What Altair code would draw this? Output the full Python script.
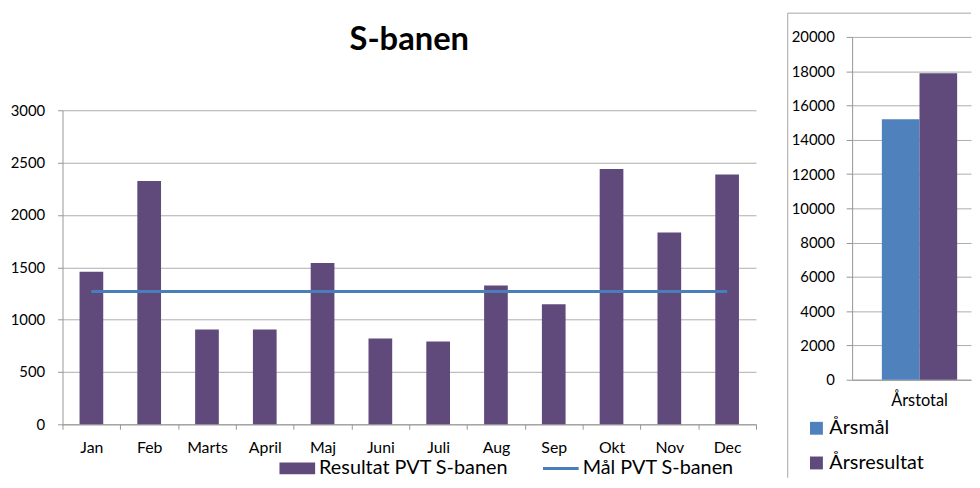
import altair as alt
import pandas as pd

# ---------------- data ----------------
months = ["Jan", "Feb", "Marts", "April", "Maj", "Juni", "Juli", "Aug", "Sep", "Okt", "Nov", "Dec"]
result_values = [1457, 2324, 905, 905, 1542, 820, 792, 1325, 1148, 2438, 1832, 2387]
target_values = [1268, 1268, 1268, 1268, 1268, 1268, 1268, 1268, 1268, 1268, 1268, 1268]
series_names = ["Resultat PVT S-banen", "Mål PVT S-banen"]
y_ticks_left = [0, 500, 1000, 1500, 2000, 2500, 3000]
chart_title = ["S-banen"]

annual_category = ["Årstotal", "Årstotal"]
annual_series = ["Årsmål", "Årsresultat"]
annual_values = [15200, 17880]
y_ticks_right = [0, 2000, 4000, 6000, 8000, 10000, 12000, 14000, 16000, 18000, 20000]

# ---------------- style ----------------
FONT = "Lato"
PURPLE = "#604A7B"
BLUE = "#4F81BD"
LINE_BLUE = "#4A7EBB"
GRID = "#adadad"
AXIS = "#969696"
FRAME = "#a6a6a6"
RECT_PATH = "M-1,-0.33H1V0.33H-1Z"
LINE_PATH = "M-1,-0.085H1V0.085H-1Z"

monthly = pd.DataFrame({"month": months, "result": result_values, "target": target_values})
legend_df = pd.DataFrame({"series": series_names})
title_df = pd.DataFrame({"title": chart_title})
annual = pd.DataFrame({"cat": annual_category, "series": annual_series, "value": annual_values})
one = pd.DataFrame({"k": [0]})

# ---------------- left chart ----------------
x_left = alt.X(
    "month:N", sort=months,
    scale=alt.Scale(paddingInner=0, paddingOuter=0),
    axis=alt.Axis(title=None, labelAngle=0, tickBand="extent", tickSize=5, labelPadding=10,
                  labelFontSize=16, grid=False, domainColor=AXIS, tickColor=AXIS, labelColor="#000"),
)
y_axis_left = alt.Axis(title=None, values=y_ticks_left, format="d", grid=True, gridColor=GRID, tickSize=5,
                       labelPadding=13, minExtent=53, maxExtent=53, labelFontSize=15, domainColor=AXIS,
                       tickColor=AXIS, labelColor="#000")
y_scale_left = alt.Scale(domain=[0, 3000], range=[391, 74])

bars = alt.Chart(monthly).mark_bar(color=PURPLE, width=alt.RelativeBandSize(0.41)).encode(
    x=x_left, y=alt.Y("result:Q", scale=y_scale_left, axis=y_axis_left)
)
goal_line = alt.Chart(monthly).mark_line(color=LINE_BLUE, strokeWidth=3).encode(
    x=x_left, y=alt.Y("target:Q", scale=y_scale_left, axis=y_axis_left)
)

left_legend = alt.Legend(
    title=None, orient="none", legendX=219, legendY=417.5, direction="horizontal",
    symbolSize=1296, symbolStrokeWidth=0, symbolOpacity=1, labelFontSize=20, labelOffset=4,
    labelLimit=400, columnPadding=35, labelColor="#000",
)
legend_layer = alt.Chart(legend_df).mark_point(filled=True).encode(
    color=alt.Color("series:N", scale=alt.Scale(domain=series_names, range=[PURPLE, LINE_BLUE]), legend=left_legend),
    shape=alt.Shape("series:N", scale=alt.Scale(domain=series_names, range=[RECT_PATH, LINE_PATH]), legend=left_legend),
).transform_filter("false")

title_text = alt.Chart(title_df).mark_text(
    fontSize=33, fontWeight="bold", color="#000", align="center", baseline="alphabetic"
).encode(text="title:N", x=alt.value(350), y=alt.value(12.8))

left = alt.layer(bars, goal_line, legend_layer, title_text).properties(width=700, height=391)

# ---------------- right chart ----------------
right_bars = alt.Chart(annual).mark_bar().encode(
    x=alt.X("cat:N", scale=alt.Scale(paddingInner=0, paddingOuter=0.2895, align=0.682),
            axis=alt.Axis(title=None, labelAngle=0, ticks=False, labelPadding=13, labelFontSize=16.5,
                          domainColor=AXIS, labelColor="#000", grid=False)),
    xOffset=alt.XOffset("series:N", sort=annual_series, scale=alt.Scale(paddingInner=0, paddingOuter=0)),
    y=alt.Y("value:Q", scale=alt.Scale(domain=[0, 20000]),
            axis=alt.Axis(title=None, values=y_ticks_right, format="d", grid=True, gridColor=GRID, tickSize=6,
                          labelPadding=12, labelFontSize=15, domainColor=AXIS, tickColor=AXIS,
                          labelColor="#000")),
    color=alt.Color("series:N", sort=annual_series,
                    scale=alt.Scale(domain=annual_series, range=[BLUE, PURPLE]),
                    legend=alt.Legend(title=None, orient="none", legendX=-46, legendY=385,
                                      direction="vertical", symbolType="square", symbolSize=169,
                                      symbolStrokeWidth=0, labelFontSize=20, rowPadding=15,
                                      labelOffset=3, labelColor="#000")),
)
frame_left = alt.Chart(one).mark_rule(color=FRAME, strokeWidth=1).encode(
    x=alt.value(-65), y=alt.value(-24), y2=alt.value(445)
)
frame_top = alt.Chart(one).mark_rule(color=FRAME, strokeWidth=1).encode(
    x=alt.value(-65), x2=alt.value(120), y=alt.value(-24)
)
right = alt.layer(right_bars, frame_left, frame_top).properties(width=120, height=346)

chart = (
    alt.hconcat(left, right, spacing=30)
    .resolve_scale(color="independent", shape="independent")
    .resolve_legend(color="independent", shape="independent")
    .properties(padding={"left": 2, "top": 2, "right": 0, "bottom": 0})
    .configure(font=FONT)
    .configure_view(stroke=None)
)

chart.save("out.html", embed_options={"renderer": "svg", "actions": False})
